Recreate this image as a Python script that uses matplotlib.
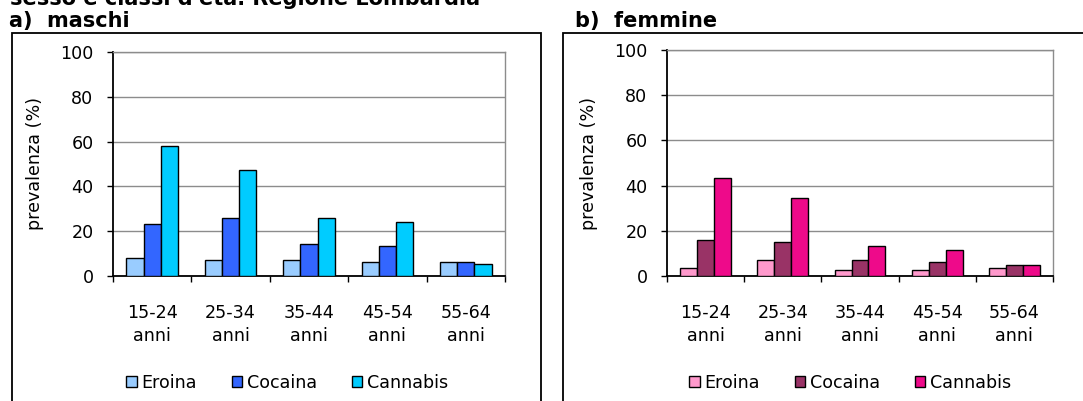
import matplotlib
matplotlib.use("Agg")
import matplotlib.pyplot as plt
from matplotlib.patches import Rectangle, Patch
import numpy as np

plt.rcParams['font.family'] = ['DejaVu Sans']

age_groups = ["15-24\nanni", "25-34\nanni", "35-44\nanni", "45-54\nanni", "55-64\nanni"]
substances = ["Eroina", "Cocaina", "Cannabis"]

maschi_eroina = [8.0, 7.2, 7.2, 6.3, 6.3]
maschi_cocaina = [23.2, 25.8, 14.3, 13.3, 6.3]
maschi_cannabis = [58.1, 47.4, 25.8, 24.1, 5.2]

femmine_eroina = [3.5, 7.1, 2.7, 2.7, 3.5]
femmine_cocaina = [15.9, 15.0, 7.1, 6.2, 5.0]
femmine_cannabis = [43.4, 34.5, 13.3, 11.5, 5.0]

colors_m = ["#99CCFF", "#3366FF", "#00CCFF"]
colors_f = ["#FF99CC", "#993366", "#EE0A8A"]

FS = 12.6
FS_TITLE = 15

W, H = 1083, 401
fig = plt.figure(figsize=(W / 100, H / 100), dpi=100)


def px_box(x0, y0, x1, y1):
    """Convert a pixel box (top-left origin) into figure fraction rect."""
    return [x0 / W, 1 - y1 / H, (x1 - x0) / W, (y1 - y0) / H]


# Heading, partly cut off by the top edge
fig.text(10 / W, 1 - 5 / H, "sesso e classi d'età. Regione Lombardia",
         fontsize=FS_TITLE, fontweight='bold', va='baseline', ha='left')
fig.text(9 / W, 1 - 27 / H, "a)  maschi", fontsize=FS_TITLE, fontweight='bold',
         va='baseline', ha='left')
fig.text(575 / W, 1 - 27 / H, "b)  femmine", fontsize=FS_TITLE, fontweight='bold',
         va='baseline', ha='left')

# Outer chart frames
for (x0, x1) in [(12, 541), (563, 1090)]:
    fig.patches.append(Rectangle((x0 / W, -0.05), (x1 - x0) / W, 1 - 33 / H + 0.05,
                                 transform=fig.transFigure, fill=False,
                                 edgecolor='black', linewidth=1.3, zorder=0))


def draw_panel(box, series, colors, legend_x):
    ax = fig.add_axes(px_box(*box))
    x = np.arange(len(age_groups))
    w = 0.22
    for i, (vals, col) in enumerate(zip(series, colors)):
        ax.bar(x + (i - 1) * w, vals, width=w, color=col, edgecolor='black',
               linewidth=1.0, zorder=3)
    ax.set_xlim(-0.5, len(age_groups) - 0.5)
    ax.set_ylim(0, 100)
    ax.set_yticks([0, 20, 40, 60, 80, 100])
    ax.yaxis.grid(True, color='#8c8c8c', linewidth=1.0, zorder=0)
    ax.set_axisbelow(True)
    for s in ['top', 'right']:
        ax.spines[s].set_color('#8c8c8c')
        ax.spines[s].set_linewidth(1.0)
    ax.spines['left'].set_linewidth(1.3)
    ax.spines['bottom'].set_linewidth(1.3)
    ax.tick_params(axis='y', direction='out', length=4, width=1, labelsize=FS, pad=10)
    ax.set_xticks(x)
    ax.set_xticklabels(age_groups, fontsize=FS, linespacing=1.35)
    ax.tick_params(axis='x', which='major', length=0, pad=20)
    ax.set_xticks(np.arange(-0.5, len(age_groups)), minor=True)
    ax.tick_params(axis='x', which='minor', direction='out', length=4, width=1)
    ax.set_ylabel("prevalenza (%)", fontsize=FS, labelpad=12)
    handles = [Patch(facecolor=c, edgecolor='black', linewidth=1.0) for c in colors]
    fig.legend(handles, substances, loc='center', ncol=3, frameon=False,
               bbox_to_anchor=(legend_x / W, 1 - 383 / H), fontsize=FS,
               handlelength=0.6, handleheight=0.6, handletextpad=0.25,
               columnspacing=2.0)
    return ax


ax1 = draw_panel((113, 52, 505, 276),
                 [maschi_eroina, maschi_cocaina, maschi_cannabis], colors_m, 287)
ax2 = draw_panel((667, 50, 1053, 276),
                 [femmine_eroina, femmine_cocaina, femmine_cannabis], colors_f, 850)

fig.savefig("out.png", dpi=100)
